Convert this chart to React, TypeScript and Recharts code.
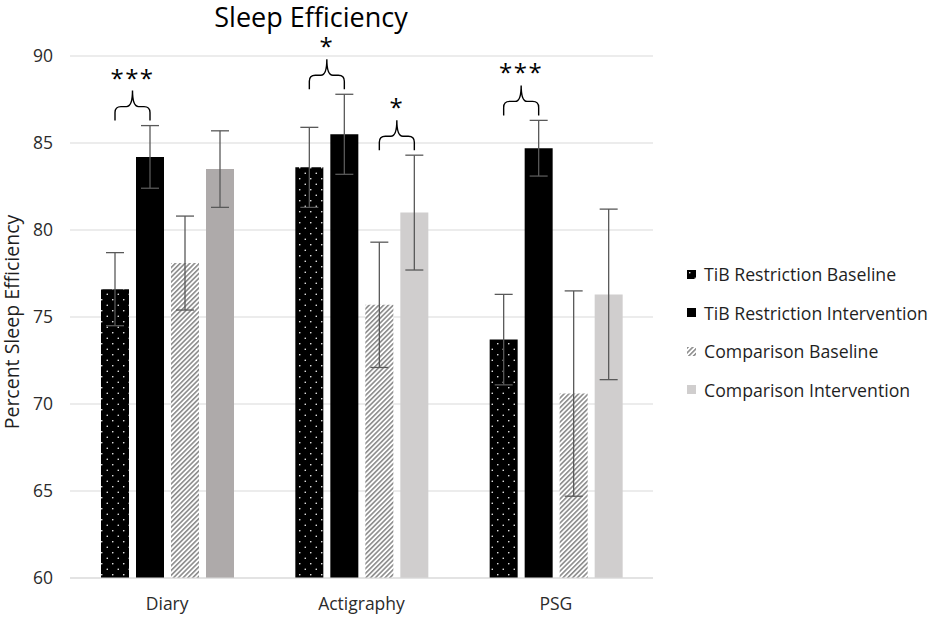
import React from 'react';
import { BarChart, Bar, XAxis, YAxis, CartesianGrid, ErrorBar, Legend, LabelList, Cell } from 'recharts';

const categories = ['Diary', 'Actigraphy', 'PSG'];
const tibBaseline = [76.6, 83.6, 73.7];
const tibBaselineErr = [2.1, 2.3, 2.6];
const tibIntervention = [84.2, 85.5, 84.7];
const tibInterventionErr = [1.8, 2.3, 1.6];
const compBaseline = [78.1, 75.7, 70.6];
const compBaselineErr = [2.7, 3.6, 5.9];
const compIntervention = [83.5, 81.0, 76.3];
const compInterventionErr = [2.2, 3.3, 4.9];
const tibSig = ['***', '*', '***'];
const compSig = ['', '*', ''];
const yTicks = [60, 65, 70, 75, 80, 85, 90];
const compInterventionColors = ['#AEAAAA', '#D0CECE', '#D0CECE'];

const seriesNames = [
  'TiB Restriction Baseline',
  'TiB Restriction Intervention',
  'Comparison Baseline',
  'Comparison Intervention',
];

const data = categories.map((name, i) => ({
  name,
  tb: tibBaseline[i],
  tbE: tibBaselineErr[i],
  ti: tibIntervention[i],
  tiE: tibInterventionErr[i],
  cb: compBaseline[i],
  cbE: compBaselineErr[i],
  ci: compIntervention[i],
  ciE: compInterventionErr[i],
}));

const FONT = '"Open Sans", sans-serif';
const BAR_SIZE = 28;
const BAR_GAP = 7;
const Y_MIN = 60;

function makeBracket(sig: string[], vals: number[], errs: number[]) {
  return (props: any) => {
    const vb = props.viewBox || {};
    const x = Number(props.x ?? vb.x);
    const y = Number(props.y ?? vb.y);
    const width = Number(props.width ?? vb.width);
    const height = Number(props.height ?? vb.height);
    const index = props.index;
    const s = sig[index];
    if (!s) return null;
    const ppu = height / (vals[index] - Y_MIN);
    const errTop = y - errs[index] * ppu;
    const yb = errTop - 5;
    const ym = yb - 14;
    const yt = ym - 16;
    const x2 = x + width / 2;
    const x1 = x - BAR_GAP - width / 2;
    const xc = (x1 + x2) / 2;
    const r = 6;
    const d = `M${x1},${yb} L${x1},${ym + r} Q${x1},${ym} ${x1 + r},${ym} L${xc - r},${ym} Q${xc},${ym} ${xc},${yt} Q${xc},${ym} ${xc + r},${ym} L${x2 - r},${ym} Q${x2},${ym} ${x2},${ym + r} L${x2},${yb}`;
    return (
      <g>
        <path d={d} fill="none" stroke="#000" strokeWidth={1.4} />
        <text
          x={xc}
          y={yt - 4}
          textAnchor="middle"
          fontFamily={FONT}
          fontSize={24}
          letterSpacing={1.5}
          fill="#000"
        >
          {s}
        </text>
      </g>
    );
  };
}

const swatchFills = ['url(#dots)', '#000000', 'url(#hatch)', '#D0CECE'];

const LegendContent = () => (
  <div style={{ fontFamily: FONT, fontSize: 17.7, color: '#1f1f1f' }}>
    {seriesNames.map((n, i) => (
      <div key={n} style={{ display: 'flex', alignItems: 'center', height: 38.5, whiteSpace: 'nowrap' }}>
        <svg width={9} height={9} style={{ marginRight: 8, flex: 'none' }}>
          <rect x={0} y={0} width={9} height={9} fill={swatchFills[i]} />
        </svg>
        <span>{n}</span>
      </div>
    ))}
  </div>
);

const YLabel = (props: any) => {
  const vb = props.viewBox || {};
  const cy = vb.y + vb.height / 2 + 5;
  return (
    <text
      x={19}
      y={cy}
      transform={`rotate(-90, 19, ${cy})`}
      textAnchor="middle"
      fontFamily={FONT}
      fontSize={19.5}
      fill="#1f1f1f"
    >
      Percent Sleep Efficiency
    </text>
  );
};

export default function App() {
  return (
    <div style={{ position: 'absolute', left: 0, top: 0, width: 935, height: 617, background: '#fff' }}>
      <svg width={935} height={617} style={{ position: 'absolute', left: 0, top: 0, pointerEvents: 'none' }}>
        <defs>
          <pattern id="dots" patternUnits="userSpaceOnUse" width={11} height={11}>
            <rect x={0} y={0} width={11} height={11} fill="#000" />
            <circle cx={2.75} cy={2.75} r={0.8} fill="#fff" />
            <circle cx={8.25} cy={8.25} r={0.8} fill="#fff" />
          </pattern>
          <pattern id="hatch" patternUnits="userSpaceOnUse" width={3.4} height={3.4} patternTransform="rotate(45)">
            <rect x={0} y={0} width={3.4} height={3.4} fill="#fff" />
            <rect x={0} y={0} width={1.6} height={3.4} fill="#8c8c8c" />
          </pattern>
        </defs>
        <text x={311} y={27} textAnchor="middle" fontFamily={FONT} fontSize={27} fill="#000">
          Sleep Efficiency
        </text>
      </svg>
      <BarChart
        width={935}
        height={617}
        data={data}
        margin={{ top: 56, right: 282, bottom: 9, left: 0 }}
        barSize={BAR_SIZE}
        barGap={BAR_GAP}
      >
        <CartesianGrid vertical={false} stroke="#d9d9d9" strokeWidth={1.2} />
        <XAxis
          dataKey="name"
          axisLine={{ stroke: '#d9d9d9', strokeWidth: 1.2 }}
          tickLine={false}
          tickMargin={14}
          tick={{ fontFamily: FONT, fontSize: 17.5, fill: '#2b2b2b' }}
          height={30}
        />
        <YAxis
          domain={[60, 90]}
          ticks={yTicks}
          axisLine={false}
          tickLine={false}
          tickMargin={11}
          width={70}
          tick={{ fontFamily: FONT, fontSize: 17.5, fill: '#2b2b2b' }}
          label={<YLabel />}
        />
        <Legend
          layout="vertical"
          align="center"
          verticalAlign="middle"
          wrapperStyle={{ left: 687, top: 255, width: 248 }}
          content={<LegendContent />}
        />
        <Bar dataKey="tb" name={seriesNames[0]} fill="url(#dots)" isAnimationActive={false}>
          <ErrorBar dataKey="tbE" width={9} stroke="#595959" strokeWidth={1.3} />
        </Bar>
        <Bar dataKey="ti" name={seriesNames[1]} fill="#000000" isAnimationActive={false}>
          <ErrorBar dataKey="tiE" width={9} stroke="#595959" strokeWidth={1.3} />
          <LabelList dataKey="ti" content={makeBracket(tibSig, tibIntervention, tibInterventionErr)} />
        </Bar>
        <Bar dataKey="cb" name={seriesNames[2]} fill="url(#hatch)" isAnimationActive={false}>
          <ErrorBar dataKey="cbE" width={9} stroke="#595959" strokeWidth={1.3} />
        </Bar>
        <Bar dataKey="ci" name={seriesNames[3]} fill="#D0CECE" isAnimationActive={false}>
          {data.map((d, i) => (
            <Cell key={d.name} fill={compInterventionColors[i]} />
          ))}
          <ErrorBar dataKey="ciE" width={9} stroke="#595959" strokeWidth={1.3} />
          <LabelList dataKey="ci" content={makeBracket(compSig, compIntervention, compInterventionErr)} />
        </Bar>
      </BarChart>
    </div>
  );
}
